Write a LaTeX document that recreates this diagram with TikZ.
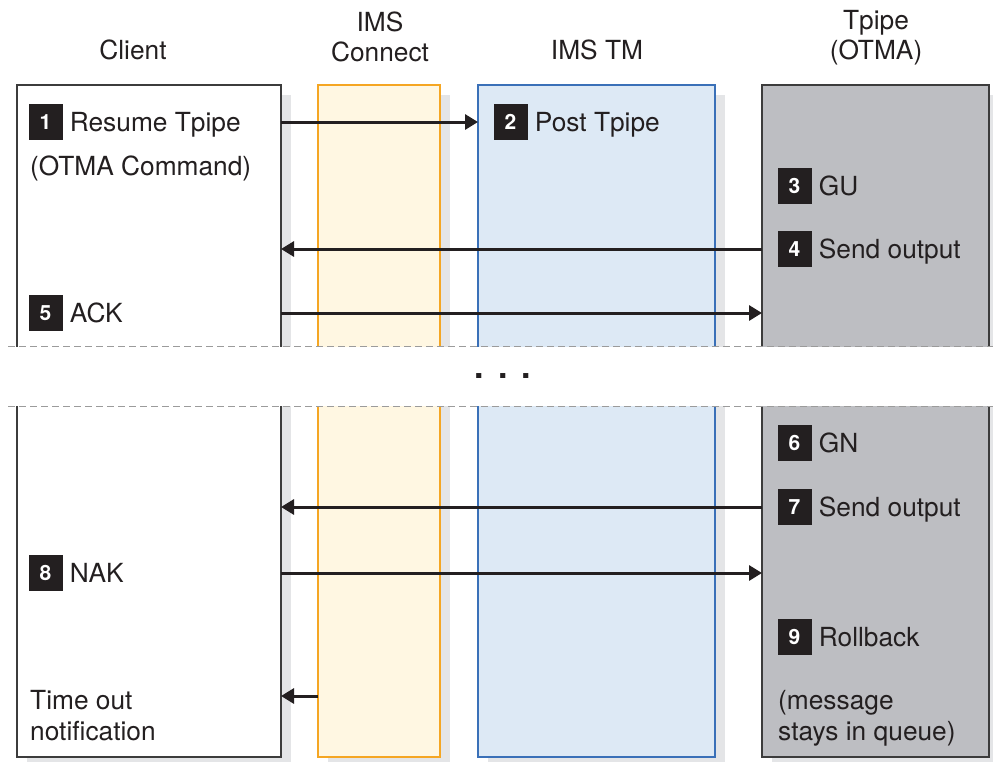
\documentclass[tikz,border=0pt]{standalone}
\usepackage{fontspec}
\setmainfont{TeX Gyre Heros}
\usepackage{xcolor}
\usetikzlibrary{positioning,arrows.meta,shadows}

\definecolor{inkblack}{HTML}{231F20}
\definecolor{edgegrey}{HTML}{3C3C3C}
\definecolor{lanegrey}{HTML}{E4E5E7}
\definecolor{connfill}{HTML}{FFF7E2}
\definecolor{connedge}{HTML}{F5A623}
\definecolor{tmfill}{HTML}{DDE9F5}
\definecolor{tmedge}{HTML}{3A70B8}
\definecolor{tpipefill}{HTML}{BDBEC2}
\definecolor{dashgrey}{HTML}{9B9B9B}

\tikzset{
  lane/.style={anchor=north west, inner sep=0pt, outer sep=0pt, line width=1.4pt,
    drop shadow={shadow xshift=10pt, shadow yshift=-10pt, fill=lanegrey, opacity=1}},
  badge/.style={fill=inkblack, text=white, minimum width=34pt, minimum height=36pt,
    inner sep=0pt, font=\fontsize{21}{21}\selectfont\bfseries, text height=15pt, text depth=0pt},
  steptext/.style={inner sep=0pt, text=inkblack, font=\fontsize{26.3}{31}\selectfont,
    text height=19pt, text depth=0pt},
  note/.style={inner sep=0pt, text=inkblack, font=\fontsize{26.3}{31}\selectfont,
    align=left, anchor=north west},
  head/.style={inner sep=0pt, text=inkblack, font=\fontsize{26.3}{30}\selectfont, align=center},
  msg/.style={line width=3pt, draw=inkblack, -{Triangle[length=13pt,width=15pt]}},
  cut/.style={dashgrey, line width=1pt, dash pattern=on 7pt off 4pt}
}

\begin{document}
\begin{tikzpicture}[x=1pt,y=-1pt]
  \fill[white] (0,0) rectangle (993,761);
  \useasboundingbox (0,0) rectangle (993,761);

  % Column headers
  \node[head] (hclient) at (133,50) {Client};
  \node[head] (hconn) at (380,37) {IMS\\Connect};
  \node[head] (htm) at (597,50) {IMS TM};
  \node[head] (htpipe) at (876,38) {Tpipe\\(OTMA)};

  % Upper lanes
  \begin{scope}
    \clip (0,0) rectangle (993,346);
    \node[lane, minimum width=264pt, minimum height=265pt, draw=edgegrey, fill=white] (cl1) at (17,85) {};
    \node[lane, minimum width=122pt, minimum height=265pt, draw=connedge, fill=connfill, line width=1.1pt] (cn1) at (318,85) {};
    \node[lane, minimum width=237pt, minimum height=265pt, draw=tmedge, fill=tmfill, line width=1.1pt] (tm1) at (478,85) {};
    \node[lane, minimum width=227pt, minimum height=265pt, draw=edgegrey, fill=tpipefill] (tp1) at (762,85) {};
  \end{scope}

  % Lower lanes
  \begin{scope}
    \clip (0,406) rectangle (993,780);
    \node[lane, minimum width=264pt, minimum height=367pt, draw=edgegrey, fill=white] (cl2) at (17,390) {};
    \node[lane, minimum width=122pt, minimum height=367pt, draw=connedge, fill=connfill, line width=1.1pt] (cn2) at (318,390) {};
    \node[lane, minimum width=237pt, minimum height=367pt, draw=tmedge, fill=tmfill, line width=1.1pt] (tm2) at (478,390) {};
    \node[lane, minimum width=227pt, minimum height=367pt, draw=edgegrey, fill=tpipefill] (tp2) at (762,390) {};
  \end{scope}

  % Cut lines and gap
  \draw[cut] (8,346) -- (993,346);
  \draw[cut] (8,406) -- (993,406);
  \node[text=inkblack, font=\fontsize{34}{34}\selectfont\bfseries] (dots) at (503,376) {.\hspace{14pt}.\hspace{14pt}.};

  % Steps, upper part
  \node[badge] (b1) at (45.5,122) {1};
  \node[steptext, right=7pt of b1] (t1) {Resume Tpipe};
  \node[steptext, anchor=west] (t1b) at (30,166) {(OTMA Command)};
  \node[badge] (b2) at (510.5,122) {2};
  \node[steptext, right=7pt of b2] (t2) {Post Tpipe};
  \node[badge] (b3) at (794.5,186) {3};
  \node[steptext, right=7pt of b3] (t3) {GU};
  \node[badge] (b4) at (794.5,249) {4};
  \node[steptext, right=7pt of b4] (t4) {Send output};
  \node[badge] (b5) at (45.5,313) {5};
  \node[steptext, right=7pt of b5] (t5) {ACK};

  % Steps, lower part
  \node[badge] (b6) at (794.5,443) {6};
  \node[steptext, right=7pt of b6] (t6) {GN};
  \node[badge] (b7) at (794.5,507) {7};
  \node[steptext, right=7pt of b7] (t7) {Send output};
  \node[badge] (b8) at (45.5,573) {8};
  \node[steptext, right=7pt of b8] (t8) {NAK};
  \node[badge] (b9) at (794.5,637) {9};
  \node[steptext, right=7pt of b9] (t9) {Rollback};
  \node[note] (tout) at (30,690) {Time out\\notification};
  \node[note] (stay) at (778,690) {(message\\stays in queue)};

  % Messages
  \draw[msg] (cl1.east |- b1) -- (tm1.west |- b1);
  \draw[msg] (tp1.west |- b4) -- (cl1.east |- b4);
  \draw[msg] (cl1.east |- b5) -- (tp1.west |- b5);
  \draw[msg] (tp2.west |- b7) -- (cl2.east |- b7);
  \draw[msg] (cl2.east |- b8) -- (tp2.west |- b8);
  \coordinate (tnote) at (0,696);
  \draw[msg] (cn2.west |- tnote) -- (cl2.east |- tnote);
\end{tikzpicture}
\end{document}
